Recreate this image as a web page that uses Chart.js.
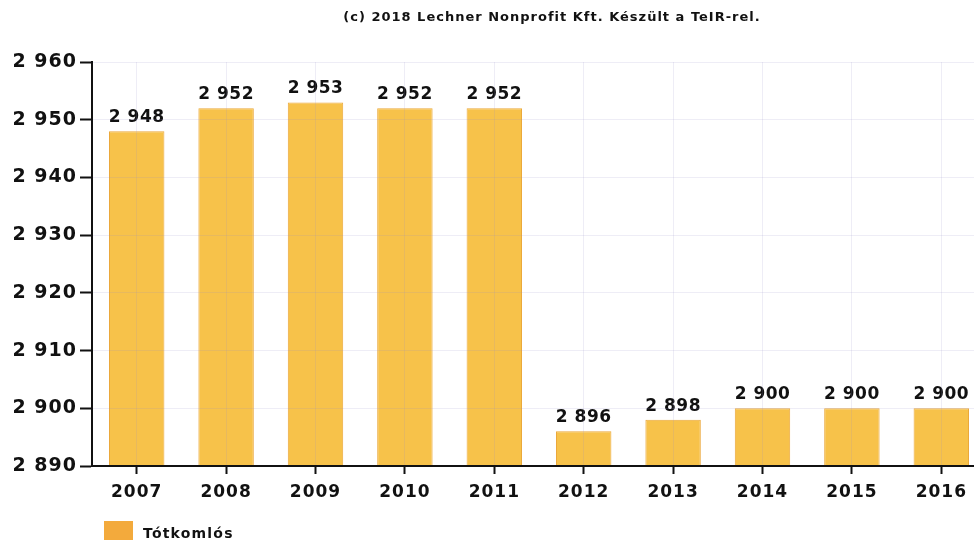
<!DOCTYPE html>
<html>
<head>
<meta charset="utf-8">
<script src="https://cdn.jsdelivr.net/npm/chart.js@4.4.1/dist/chart.umd.min.js"></script>
<style>
  html, body { margin: 0; padding: 0; background: #fff; overflow: hidden; width: 974px; height: 540px; }
  #wrap { width: 1000px; height: 560px; }
</style>
</head>
<body>
<div id="wrap"><canvas id="popChart" width="1000" height="560"></canvas></div>
<script>
const years = ["2007", "2008", "2009", "2010", "2011", "2012", "2013", "2014", "2015", "2016"];
const population = [2948, 2952, 2953, 2952, 2952, 2896, 2898, 2900, 2900, 2900];
const seriesName = "Tótkomlós";
const titleText = "(c) 2018 Lechner Nonprofit Kft. Készült a TeIR-rel.";
const yMin = 2890;
const yMax = 2960;
const yStep = 10;

const FONT = "'DejaVu Sans', Verdana, sans-serif";

function fmt(v) {
    return String(v).replace(/\B(?=(\d{3})+(?!\d))/g, " ");
}

const extras = {
    id: "extras",
    beforeDraw(chart) {
        chart.ctx.letterSpacing = "1px";
    },
    afterDatasetsDraw(chart) {
        const ctx = chart.ctx;
        const meta = chart.getDatasetMeta(0);
        ctx.save();
        ctx.fillStyle = "#111";
        ctx.font = "bold 17px " + FONT;
        ctx.letterSpacing = "0.5px";
        ctx.textAlign = "center";
        ctx.textBaseline = "bottom";
        meta.data.forEach((bar, i) => {
            ctx.fillText(fmt(population[i]), bar.x, bar.y - 5);
        });
        ctx.restore();
    },
    afterDraw(chart) {
        const ctx = chart.ctx;
        ctx.save();
        // title
        ctx.fillStyle = "#111";
        ctx.font = "bold 13px " + FONT;
        ctx.letterSpacing = "1px";
        ctx.textAlign = "center";
        ctx.textBaseline = "middle";
        ctx.fillText(titleText, 552, 18);
        // legend
        ctx.fillStyle = "#f3aa3c";
        ctx.fillRect(104, 521, 29, 22);
        ctx.fillStyle = "#111";
        ctx.font = "bold 14px " + FONT;
        ctx.letterSpacing = "1.2px";
        ctx.textAlign = "left";
        ctx.fillText(chart.data.datasets[0].label, 143, 534);
        ctx.restore();
    }
};

new Chart(document.getElementById("popChart").getContext("2d"), {
    type: "bar",
    data: {
        labels: years,
        datasets: [{
            label: seriesName,
            data: population,
            backgroundColor: "#f7c24a",
            borderColor: "#eba83a",
            borderWidth: 1,
            categoryPercentage: 0.62,
            barPercentage: 1
        }]
    },
    options: {
        responsive: false,
        animation: false,
        layout: { padding: { top: 62, right: 14, bottom: 50, left: 0 } },
        plugins: {
            legend: { display: false },
            title: { display: false },
            tooltip: { enabled: false }
        },
        scales: {
            x: {
                grid: {
                    offset: false,
                    z: 1,
                    color: "rgba(150, 140, 200, 0.16)",
                    tickColor: "#111",
                    tickLength: 8,
                    tickWidth: 2
                },
                border: { color: "#111", width: 2, z: 2 },
                ticks: {
                    color: "#111",
                    font: { family: FONT, size: 17, weight: "bold" },
                    padding: 8
                },
                afterFit(scale) { scale.height = 44; }
            },
            y: {
                min: yMin,
                max: yMax,
                grid: {
                    z: 1,
                    color: "rgba(150, 140, 200, 0.16)",
                    tickColor: "#111",
                    tickLength: 12,
                    tickWidth: 2
                },
                border: { color: "#111", width: 2, z: 2 },
                ticks: {
                    stepSize: yStep,
                    color: "#111",
                    font: { family: FONT, size: 19, weight: "bold" },
                    padding: 3,
                    callback: v => fmt(v)
                },
                afterFit(scale) { scale.width = 92; }
            }
        }
    },
    plugins: [extras]
});
</script>
</body>
</html>
